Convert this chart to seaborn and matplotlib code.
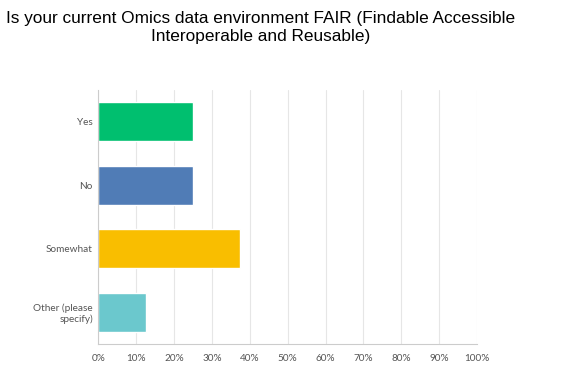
import pandas as pd
import seaborn as sns
import matplotlib.pyplot as plt
import matplotlib.ticker as mticker

# answer choices and share of responses (%)
choices = ["Yes", "No", "Somewhat", "Other (please\nspecify)"]
shares = [25.0, 25.0, 37.5, 12.5]
colors = ["#00bf6f", "#507cb6", "#f9be00", "#6bc8cd"]
xticks = [0, 10, 20, 30, 40, 50, 60, 70, 80, 90, 100]

df = pd.DataFrame({"choice": choices, "share": shares})

sns.set_style("white")
plt.rcParams['font.family'] = ['Lato', 'DejaVu Sans']

fig = plt.figure(figsize=(5.76, 3.77), dpi=100)
ax = fig.add_axes([0.171, 0.0875, 0.657, 0.674])

sns.barplot(data=df, x="share", y="choice", hue="choice", palette=colors,
            legend=False, width=0.62, saturation=1, ax=ax, orient="h")

ax.set_xlim(0, 100)
ax.set_ylim(3.5, -0.5)
ax.set_xticks(xticks)
ax.xaxis.set_major_formatter(mticker.FuncFormatter(lambda v, p: f"{v:.0f}%"))
ax.grid(axis="x", color="#e6e6e6", linewidth=0.8)
ax.set_axisbelow(True)
ax.set_xlabel("")
ax.set_ylabel("")
ax.tick_params(axis="both", length=0, labelsize=7.2, labelcolor="#555555")
ax.tick_params(axis="x", pad=7)
ax.tick_params(axis="y", pad=4)
for t in ax.get_yticklabels():
    t.set_horizontalalignment("right")
for s in ["top", "right"]:
    ax.spines[s].set_visible(False)
for s in ["left", "bottom"]:
    ax.spines[s].set_color("#cccccc")
    ax.spines[s].set_linewidth(0.8)

fig.text(0.453, 0.97, "Is your current Omics data environment FAIR (Findable Accessible\nInteroperable and Reusable)",
         ha="center", va="top", fontsize=12.4, color="black",
         family="Liberation Sans", linespacing=1.2)

fig.savefig("out.png", dpi=100)
